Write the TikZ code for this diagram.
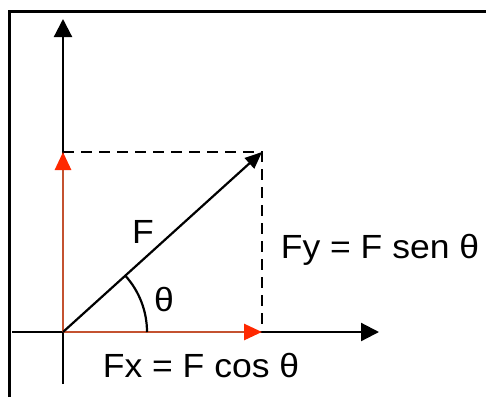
\documentclass[tikz,border=0pt]{standalone}
\usepackage{fontspec}
\setmainfont{Liberation Sans}
\newfontfamily\labfont[FakeStretch=1.06]{Liberation Sans}
\usetikzlibrary{arrows.meta}
\definecolor{redline}{RGB}{196,82,48}
\definecolor{redtip}{RGB}{255,40,0}
\begin{document}
\begin{tikzpicture}[x=1pt,y=-1pt,
  axis/.style={line width=2.2pt,black,-{Triangle[length=18pt,width=18pt]}},
  comp/.style={line width=2.8pt,redline,-{Triangle[length=18pt,width=16pt,color=redtip]}},
  vec/.style={line width=2.2pt,black,-{Triangle[length=17pt,width=14pt]}},
  guide/.style={line width=2.2pt,black,dash pattern=on 11pt off 7pt},
  lbl/.style={inner sep=0pt,font=\labfont\fontsize{33.5}{40}\selectfont}]
\useasboundingbox (0,0) rectangle (486,397);
\fill[white] (0,0) rectangle (486,397);
\draw[line width=3pt] (9,397) -- (9,11) -- (486,11);
\coordinate (O) at (63,332);
\coordinate (ybot) at (63,384);
\coordinate (ytop) at (63,19);
\coordinate (xleft) at (12,332);
\coordinate (xright) at (379,332);
\coordinate (P) at (262,152);
\coordinate (Px) at (262,332);
\coordinate (Py) at (63,152);
\draw[axis] (ybot) -- (ytop);
\draw[axis] (xleft) -- (xright);
\draw[guide] (Py) -- (P) -- (Px);
\draw[comp] (O) -- (Px);
\draw[comp] (O) -- (Py);
\draw[vec] (O) -- (P);
\draw[line width=2.2pt] ([shift={(84,0)}]O) arc[start angle=0,end angle=-42.1,radius=84];
\node[lbl] (Flab) at (143,232) {F};
\node[lbl] (th) at (164,300) {θ};
\node[lbl] (fx) at (201,366) {Fx = F cos θ};
\node[lbl] (fy) at (380,250) {Fy = F sen θ};
\end{tikzpicture}
\end{document}
